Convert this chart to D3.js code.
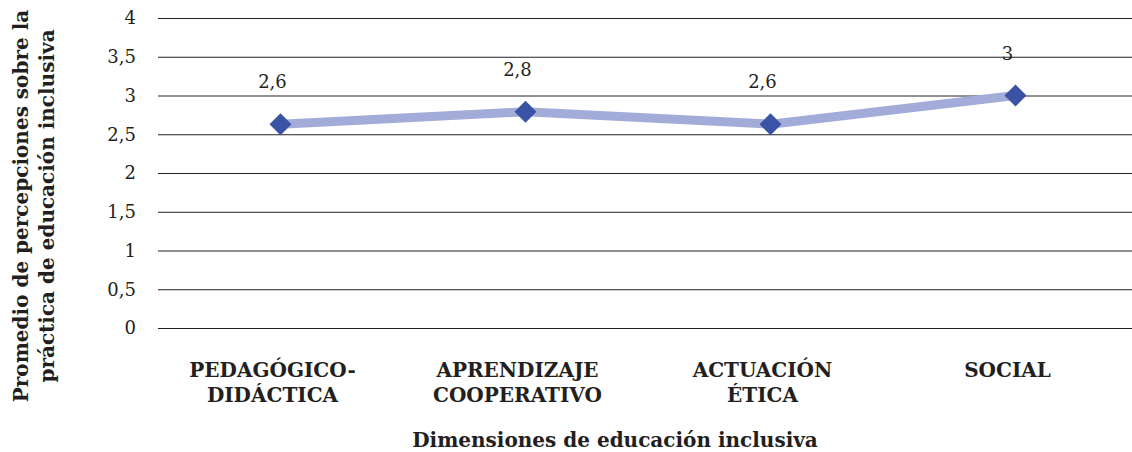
<!DOCTYPE html>
<html>
<head>
<meta charset="utf-8">
<script src="https://cdn.jsdelivr.net/npm/d3@7"></script>
<style>
  body { margin: 0; background: #fff; }
  svg { display: block; }
  text { font-family: "DejaVu Serif", "Liberation Serif", serif; fill: #231f20; }
</style>
</head>
<body>
<svg id="chart" width="1132" height="452"></svg>
<script>
// chart data
var categories = [["PEDAGÓGICO-", "DIDÁCTICA"], ["APRENDIZAJE", "COOPERATIVO"], ["ACTUACIÓN", "ÉTICA"], ["SOCIAL"]];
var values = [2.63, 2.79, 2.63, 3.0];
var valueLabels = ["2,6", "2,8", "2,6", "3"];
var yTicks = [0, 0.5, 1, 1.5, 2, 2.5, 3, 3.5, 4];
var yTickLabels = ["0", "0,5", "1", "1,5", "2", "2,5", "3", "3,5", "4"];

var svg = d3.select("#chart");
var plotLeft = 158, plotRight = 1138, plotTop = 18, plotBottom = 328;

var x = d3.scaleBand()
    .domain(d3.range(categories.length))
    .range([plotLeft, plotRight]);

var y = d3.scaleLinear()
    .domain([0, 4])
    .range([plotBottom, plotTop]);

// gridlines + tick labels
var yAxis = d3.axisLeft(y)
    .tickValues(yTicks)
    .tickSize(-(plotRight - plotLeft))
    .tickPadding(22)
    .tickFormat(function(d, i) { return yTickLabels[i]; });

var gy = svg.append("g")
    .attr("transform", "translate(" + plotLeft + ",0)")
    .call(yAxis);
gy.select(".domain").remove();
gy.selectAll(".tick line").attr("stroke", "#222").attr("stroke-width", 1);
gy.selectAll(".tick text")
    .attr("font-size", 18)
    .attr("font-family", "DejaVu Serif")
    .attr("fill", "#231f20");

// line
var line = d3.line()
    .x(function(d, i) { return x(i) + x.bandwidth() / 2; })
    .y(function(d) { return y(d); });

svg.append("path")
    .datum(values)
    .attr("d", line)
    .attr("fill", "none")
    .attr("stroke", "#a3acd9")
    .attr("stroke-width", 9)
    .attr("stroke-linejoin", "round");

// diamonds
svg.selectAll(".marker")
    .data(values)
    .enter()
    .append("rect")
    .attr("class", "marker")
    .attr("x", -7.8)
    .attr("y", -7.8)
    .attr("width", 15.6)
    .attr("height", 15.6)
    .attr("fill", "#3a53a4")
    .attr("transform", function(d, i) {
        return "translate(" + (x(i) + x.bandwidth() / 2) + "," + y(d) + ") rotate(45)";
    });

// data labels
svg.selectAll(".vlabel")
    .data(values)
    .enter()
    .append("text")
    .attr("class", "vlabel")
    .attr("x", function(d, i) { return x(i) + x.bandwidth() / 2 - 8; })
    .attr("y", function(d) { return y(d) - 36; })
    .attr("text-anchor", "middle")
    .attr("font-size", 18)
    .text(function(d, i) { return valueLabels[i]; });

// category labels
var cat = svg.selectAll(".cat")
    .data(categories)
    .enter()
    .append("text")
    .attr("class", "cat")
    .attr("text-anchor", "middle")
    .attr("font-weight", "bold")
    .attr("font-size", 20);

cat.selectAll("tspan")
    .data(function(d, i) { return d.map(function(s) { return { s: s, i: i }; }); })
    .enter()
    .append("tspan")
    .attr("x", function(d) { return x(d.i) + x.bandwidth() / 2 - 8; })
    .attr("y", function(d, j) { return 377 + j * 25; })
    .text(function(d) { return d.s; });

// axis titles
svg.append("text")
    .attr("x", 615)
    .attr("y", 447)
    .attr("text-anchor", "middle")
    .attr("font-weight", "bold")
    .attr("font-size", 20)
    .text("Dimensiones de educación inclusiva");

var yt = svg.append("text")
    .attr("transform", "translate(0,206) rotate(-90)")
    .attr("text-anchor", "middle")
    .attr("font-weight", "bold")
    .attr("font-size", 20);
yt.append("tspan").attr("x", 0).attr("y", 28).text("Promedio de percepciones sobre la");
yt.append("tspan").attr("x", 0).attr("y", 54).text("práctica de educación inclusiva");
</script>
</body>
</html>
